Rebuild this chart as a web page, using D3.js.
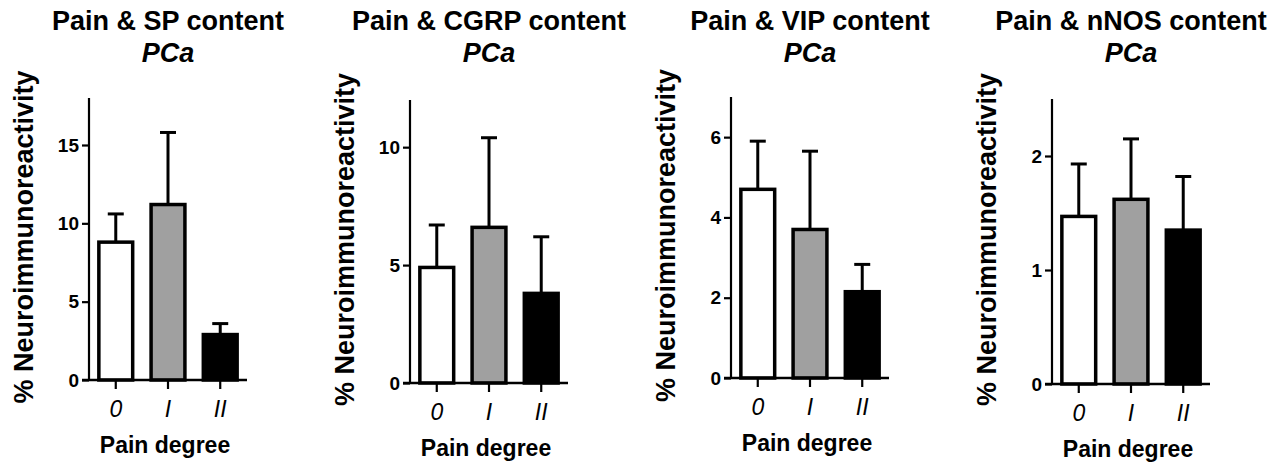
<!DOCTYPE html>
<html><head><meta charset="utf-8">
<script src="https://cdn.jsdelivr.net/npm/d3@7"></script>
<style>
body{margin:0;background:#fff;}
text{font-family:"Liberation Sans",Arial,sans-serif;fill:#000;}
</style></head>
<body><svg id="c" width="1275" height="464"></svg>
<script>
const categories = ["0", "I", "II"];
const titles = ["Pain & SP content", "Pain & CGRP content", "Pain & VIP content", "Pain & nNOS content"];
const subtitle = "PCa";
const yLabel = "% Neuroimmunoreactivity";
const xLabel = "Pain degree";
const spMean = [8.8, 11.2, 2.9];
const spErr = [1.8, 4.6, 0.7];
const cgrpMean = [4.9, 6.6, 3.8];
const cgrpErr = [1.8, 3.8, 2.4];
const vipMean = [4.7, 3.7, 2.15];
const vipErr = [1.2, 1.95, 0.68];
const nnosMean = [1.47, 1.62, 1.35];
const nnosErr = [0.46, 0.53, 0.47];
const yMax = [18, 12, 7, 2.5];
const yTicks = [[0, 5, 10, 15], [0, 5, 10], [0, 2, 4, 6], [0, 1, 2]];

const means = [spMean, cgrpMean, vipMean, nnosMean];
const errs = [spErr, cgrpErr, vipErr, nnosErr];
const fills = ["#ffffff", "#a0a0a0", "#000000"];

const layout = [
  {ax: 89, top: 98, bottom: 380},
  {ax: 410, top: 100, bottom: 383},
  {ax: 731, top: 97, bottom: 378},
  {ax: 1052, top: 99, bottom: 384}
];
const plotW = 158;

const svg = d3.select("#c");

layout.forEach((L, i) => {
  const g = svg.append("g");
  const y = d3.scaleLinear().domain([0, yMax[i]]).range([L.bottom, L.top]);
  const x = d3.scaleBand().domain(categories).range([L.ax, L.ax + plotW])
    .paddingInner(0.295).paddingOuter(0.16);

  const cx = L.ax + plotW / 2;
  g.append("text").attr("x", cx).attr("y", 30).attr("text-anchor", "middle")
    .style("font-size", "27px").style("font-weight", "bold").text(titles[i]);
  g.append("text").attr("x", cx).attr("y", 62).attr("text-anchor", "middle")
    .style("font-size", "27px").style("font-weight", "bold").style("font-style", "italic").text(subtitle);

  const data = categories.map((c, k) => ({c, m: means[i][k], e: errs[i][k], k}));
  g.selectAll(".err").data(data).enter().append("line")
    .attr("x1", d => x(d.c) + x.bandwidth() / 2).attr("x2", d => x(d.c) + x.bandwidth() / 2)
    .attr("y1", d => y(d.m)).attr("y2", d => y(d.m + d.e))
    .attr("stroke", "#000").attr("stroke-width", 3);
  g.selectAll(".cap").data(data).enter().append("line")
    .attr("x1", d => x(d.c) + x.bandwidth() / 2 - 8).attr("x2", d => x(d.c) + x.bandwidth() / 2 + 8)
    .attr("y1", d => y(d.m + d.e)).attr("y2", d => y(d.m + d.e))
    .attr("stroke", "#000").attr("stroke-width", 3);
  g.selectAll(".bar").data(data).enter().append("rect")
    .attr("x", d => x(d.c) + 1.5).attr("width", x.bandwidth() - 3)
    .attr("y", d => y(d.m)).attr("height", d => y(0) - y(d.m))
    .attr("fill", d => fills[d.k]).attr("stroke", "#000").attr("stroke-width", 3.5);

  const ya = g.append("g").attr("transform", `translate(${L.ax},0)`)
    .call(d3.axisLeft(y).tickValues(yTicks[i]).tickSize(7).tickPadding(3).tickFormat(d3.format("d")));
  ya.select(".domain").attr("stroke-width", 2.2).attr("d", `M0,${L.top}V${L.bottom}`);
  ya.selectAll(".tick line").attr("stroke-width", 2.2);
  ya.selectAll(".tick text").style("font-size", "19px").style("font-weight", "bold")
    .style("font-family", "'Liberation Sans',Arial,sans-serif").attr("fill", "#000");

  const xa = g.append("g").attr("transform", `translate(0,${L.bottom})`)
    .call(d3.axisBottom(x).tickSize(9).tickPadding(12));
  xa.select(".domain").attr("stroke-width", 2.5).attr("d", `M${L.ax - 7},0H${L.ax + plotW}`);
  xa.selectAll(".tick line").attr("stroke-width", 2.2);
  xa.selectAll(".tick text").style("font-size", "23px").style("font-style", "italic")
    .style("font-family", "'Liberation Sans',Arial,sans-serif").attr("fill", "#000");

  g.append("text").attr("x", cx - 3).attr("y", L.bottom + 73).attr("text-anchor", "middle")
    .style("font-size", "23px").style("font-weight", "bold").text(xLabel);

  g.append("text").attr("transform", `translate(${L.ax - 56},${(L.top + L.bottom) / 2 - 2}) rotate(-90)`)
    .attr("text-anchor", "middle")
    .style("font-size", "27px").style("font-weight", "bold").text(yLabel);
});
</script></body></html>
